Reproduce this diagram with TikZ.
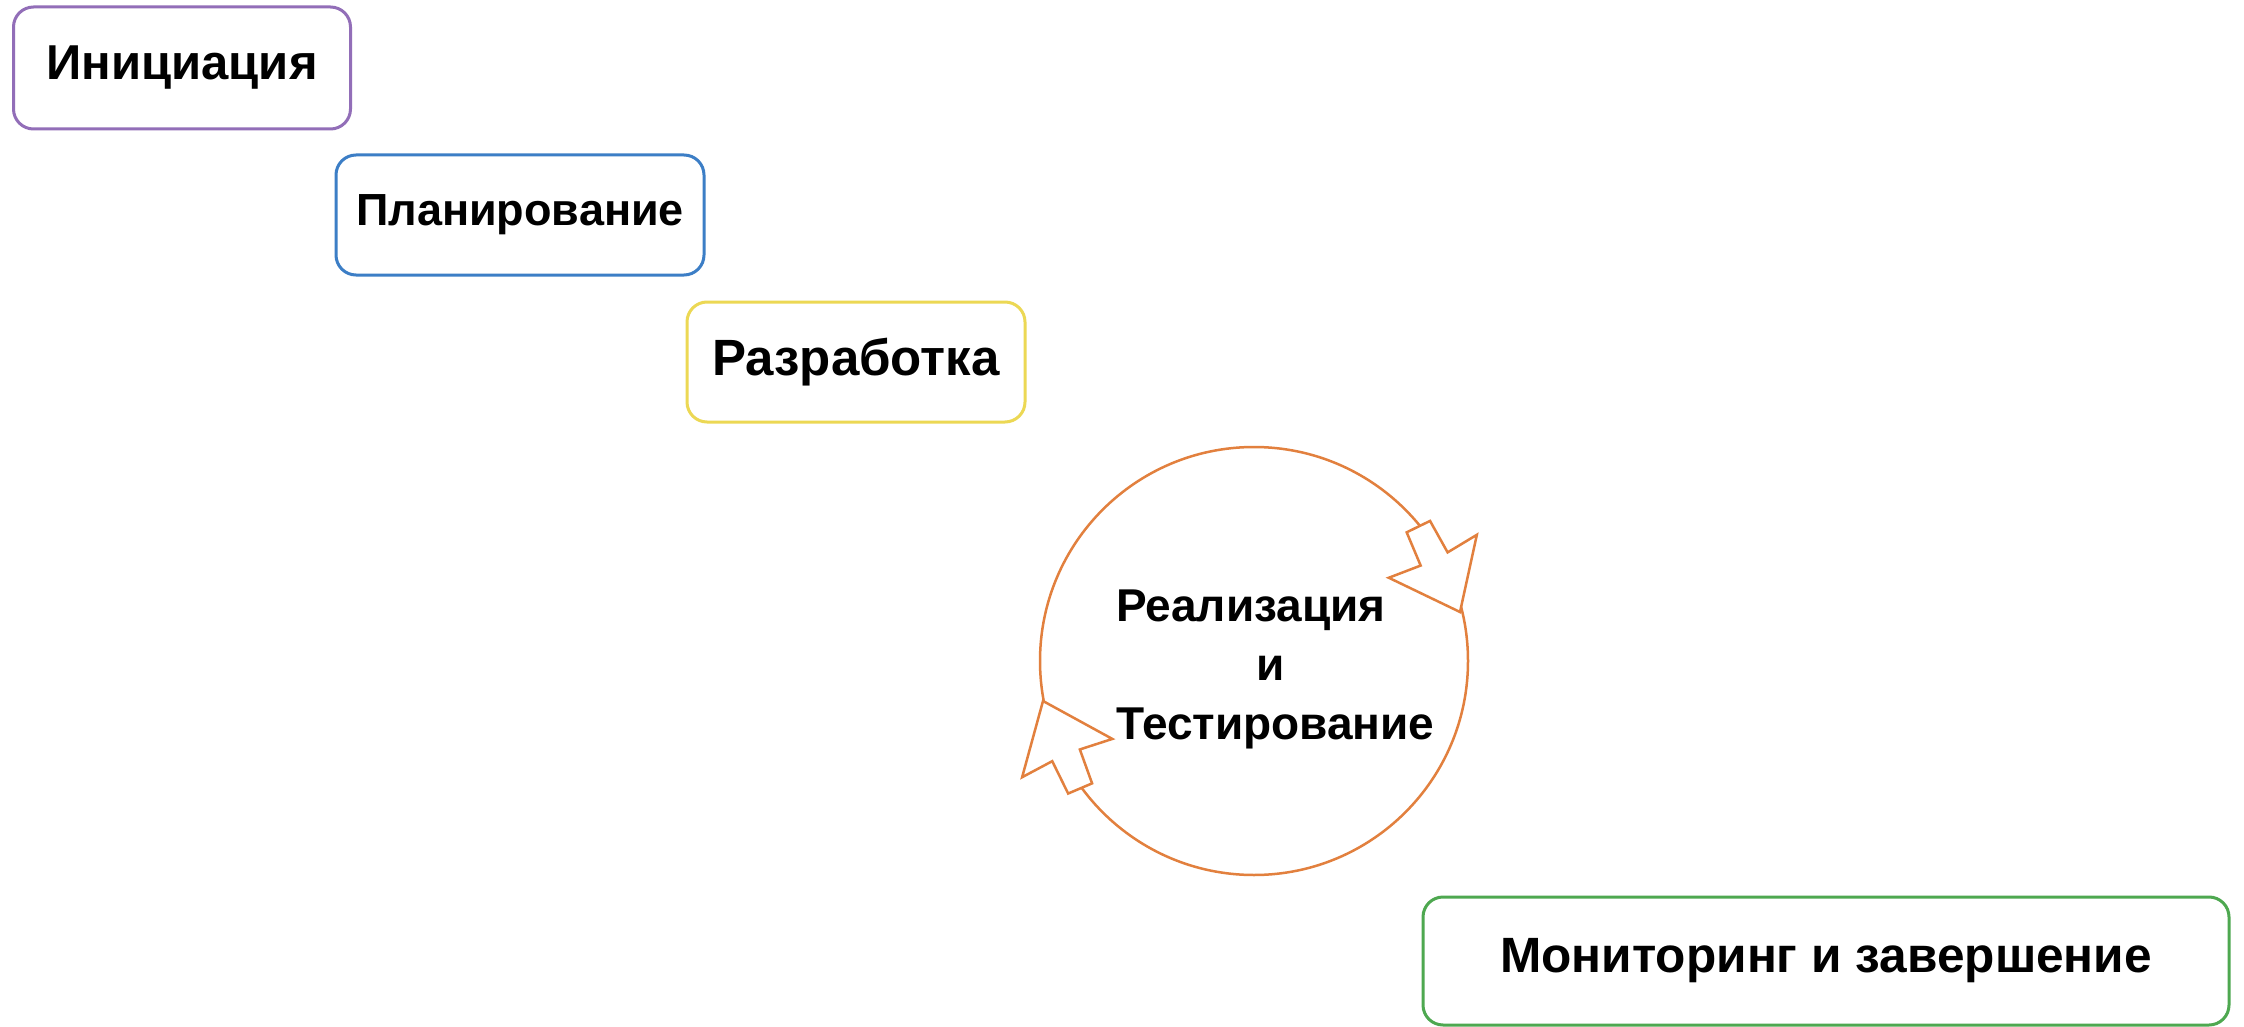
\documentclass[tikz,border=0pt]{standalone}
\usepackage{fontspec}
\setmainfont{Liberation Sans}
\definecolor{cPurple}{RGB}{146,110,184}
\definecolor{cBlue}{RGB}{60,126,198}
\definecolor{cYellow}{RGB}{236,216,84}
\definecolor{cOrange}{RGB}{226,128,62}
\definecolor{cGreen}{RGB}{78,168,80}
\begin{document}
\begin{tikzpicture}[x=1pt,y=-1pt,
  stage/.style={draw, line width=3pt, rounded corners=20pt, fill=white, inner sep=0pt},
  arrowshape/.style={draw=cOrange, fill=white, line width=2.5pt, line join=miter},
]
\useasboundingbox (0,0) rectangle (2244,1027);
\fill[white] (0,0) rectangle (2244,1027);

\node[stage, draw=cPurple, minimum width=337pt, minimum height=122pt,
      font=\bfseries\fontsize{49}{58}\selectfont] (init) at (182,68) {Инициация};
\node[stage, draw=cBlue, minimum width=368pt, minimum height=120pt,
      font=\bfseries\fontsize{45}{54}\selectfont] (plan) at (520,215) {Планирование};
\node[stage, draw=cYellow, minimum width=338pt, minimum height=120pt,
      font=\bfseries\fontsize{51}{60}\selectfont] (dev) at (856,362) {Разработка};
\node[stage, draw=cGreen, minimum width=806pt, minimum height=128pt,
      font=\bfseries\fontsize{49.6}{58}\selectfont] (mon) at (1826,961) {Мониторинг и завершение};

\node[circle, draw=cOrange, line width=2.5pt, minimum size=428pt, inner sep=0pt] (cyc) at (1254,661) {};

\begin{scope}[shift={(1460,612)}, rotate=-64]
  \draw[arrowshape] (0,0) -- (-62,49) -- (-59,15) -- (-95,13) -- (-95,-13) -- (-59,-15) -- (-62,-49) -- cycle;
\end{scope}
\begin{scope}[shift={(1043,701)}, rotate=113]
  \draw[arrowshape] (0,0) -- (-62,49) -- (-59,15) -- (-95,13) -- (-95,-13) -- (-59,-15) -- (-62,-49) -- cycle;
\end{scope}

\node[anchor=west, align=left, inner sep=0pt,
      font=\bfseries\fontsize{46}{59}\selectfont] (cyctxt) at (1116,669)
  {Реализация\\\hspace*{140pt}и\\Тестирование};
\end{tikzpicture}
\end{document}
